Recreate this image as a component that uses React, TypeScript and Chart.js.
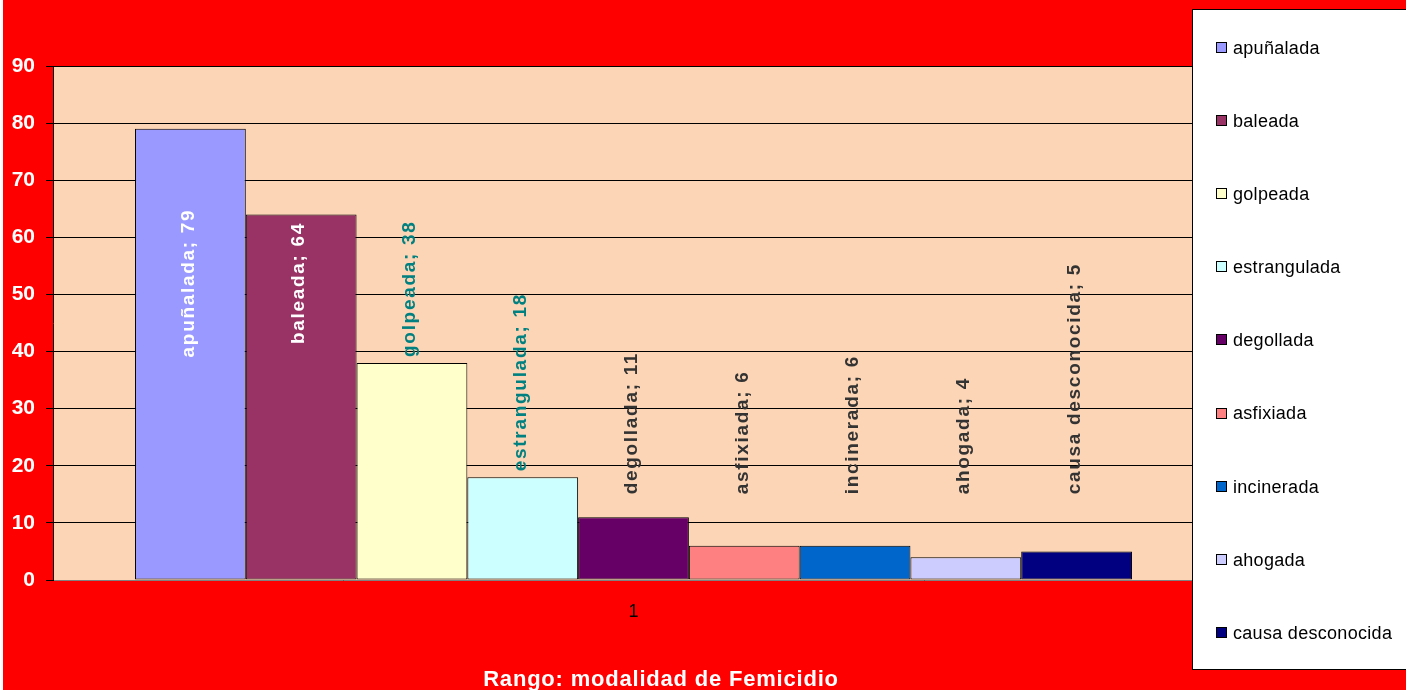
import React, { useEffect, useRef } from "react";
import { Chart, registerables } from "chart.js";

Chart.register(...registerables);

const categories = ["1"];
const seriesNames = [
  "apuñalada",
  "baleada",
  "golpeada",
  "estrangulada",
  "degollada",
  "asfixiada",
  "incinerada",
  "ahogada",
  "causa desconocida",
];
const seriesValues = [79, 64, 38, 18, 11, 6, 6, 4, 5];
const yMin = 0;
const yMax = 90;
const yStep = 10;
const xAxisTitle = "Rango: modalidad de Femicidio";

const barColors = [
  "#9999FF",
  "#993366",
  "#FFFFCC",
  "#CCFFFF",
  "#660066",
  "#FF8080",
  "#0066CC",
  "#CCCCFF",
  "#000080",
];
const labelColors = [
  "#FFFFFF",
  "#FFFFFF",
  "#008080",
  "#008080",
  "#333333",
  "#333333",
  "#333333",
  "#333333",
  "#333333",
];

const FONT = '"Liberation Sans", Arial, Helvetica, sans-serif';
const CANVAS_W = 1403;
const CANVAS_H = 690;

const backgroundPlugin = {
  id: "bgPlugin",
  beforeDraw(chart: any) {
    const { ctx, chartArea } = chart;
    ctx.save();
    ctx.fillStyle = "#FF0000";
    ctx.fillRect(0, 0, chart.width, chart.height);
    ctx.fillStyle = "#FBD5B5";
    ctx.fillRect(
      chartArea.left,
      chartArea.top,
      chartArea.right - chartArea.left,
      chartArea.bottom - chartArea.top
    );
    ctx.restore();
  },
};

const labelPlugin = {
  id: "barLabels",
  afterDatasetsDraw(chart: any) {
    const ctx = chart.ctx;
    const yScale = chart.scales.y;
    chart.data.datasets.forEach((ds: any, i: number) => {
      const el: any = chart.getDatasetMeta(i).data[0];
      if (!el) return;
      const v = ds.data[0] as number;
      const text = `${ds.label}; ${v}`;
      ctx.save();
      ctx.font = `bold 19px ${FONT}`;
      (ctx as any).letterSpacing = "1.7px";
      ctx.fillStyle = labelColors[i];
      ctx.translate(el.x - 2, 0);
      ctx.rotate(-Math.PI / 2);
      ctx.textBaseline = "middle";
      if (v > 50) {
        ctx.textAlign = "center";
        ctx.fillText(text, -yScale.getPixelForValue(52), 0);
      } else {
        const bottom = Math.min(el.y - 6, yScale.getPixelForValue(15));
        ctx.textAlign = "left";
        ctx.fillText(text, -bottom, 0);
      }
      ctx.restore();
    });
  },
};

const legendAndTitlePlugin = {
  id: "customLegend",
  afterDraw(chart: any) {
    const ctx = chart.ctx;
    ctx.save();
    const boxLeft = 1189.5;
    const boxTop = 9.5;
    const boxBottom = 669.5;
    ctx.fillStyle = "#FFFFFF";
    ctx.fillRect(boxLeft, boxTop, chart.width - boxLeft + 10, boxBottom - boxTop);
    ctx.strokeStyle = "#000000";
    ctx.lineWidth = 1;
    ctx.strokeRect(boxLeft, boxTop, chart.width - boxLeft + 10, boxBottom - boxTop);
    const step = 73.1;
    chart.data.datasets.forEach((ds: any, i: number) => {
      const cy = 48 + i * step;
      ctx.fillStyle = ds.backgroundColor;
      ctx.fillRect(1213.5, Math.round(cy) - 5.5, 10, 10);
      ctx.strokeStyle = "#000000";
      ctx.strokeRect(1213.5, Math.round(cy) - 5.5, 10, 10);
      ctx.fillStyle = "#000000";
      ctx.font = `18px ${FONT}`;
      (ctx as any).letterSpacing = "0.3px";
      ctx.textAlign = "left";
      ctx.textBaseline = "middle";
      ctx.fillText(ds.label, 1230, cy + 1);
    });
    ctx.fillStyle = "#FFFFFF";
    ctx.font = `bold 22px ${FONT}`;
    (ctx as any).letterSpacing = "0.8px";
    ctx.textAlign = "center";
    ctx.textBaseline = "alphabetic";
    ctx.fillText(xAxisTitle, 658, 686);
    ctx.restore();
  },
};

export default function App() {
  const canvasRef = useRef<HTMLCanvasElement | null>(null);

  useEffect(() => {
    if (!canvasRef.current) return;
    const chart = new Chart(canvasRef.current, {
      type: "bar",
      data: {
        labels: categories,
        datasets: seriesNames.map((name, i) => ({
          label: name,
          data: [seriesValues[i]],
          backgroundColor: barColors[i],
          borderColor: "#000000",
          borderWidth: 1,
          borderSkipped: false,
          categoryPercentage: 0.8587,
          barPercentage: 1,
        })),
      },
      options: {
        responsive: false,
        animation: false,
        layout: { padding: { top: 66, right: 192, left: 0, bottom: 0 } },
        plugins: {
          legend: { display: false },
          title: { display: false },
          tooltip: { enabled: false },
        },
        scales: {
          x: {
            grid: { display: false, drawTicks: false },
            border: { display: true, color: "#808080", width: 1 },
            ticks: {
              color: "#000000",
              font: { family: FONT, size: 18 },
              padding: 21,
            },
            afterFit: (scale: any) => {
              scale.height = 110;
            },
          },
          y: {
            min: yMin,
            max: yMax,
            ticks: {
              stepSize: yStep,
              color: "#FFFFFF",
              font: { family: FONT, size: 21, weight: "bold" },
              padding: 11,
            },
            grid: {
              color: "#000000",
              lineWidth: 1,
              tickLength: 7,
              drawTicks: true,
            },
            border: { display: true, color: "#000000", width: 1 },
            afterFit: (scale: any) => {
              scale.width = 50;
            },
          },
        },
      },
      plugins: [backgroundPlugin, labelPlugin, legendAndTitlePlugin],
    });
    return () => chart.destroy();
  }, []);

  return (
    <div
      style={{
        position: "fixed",
        left: 0,
        top: 0,
        width: 1406,
        height: 690,
        background: "#FFFFFF",
        overflow: "hidden",
      }}
    >
      <canvas
        ref={canvasRef}
        width={CANVAS_W}
        height={CANVAS_H}
        style={{
          position: "absolute",
          left: 3,
          top: 0,
          width: CANVAS_W,
          height: CANVAS_H,
        }}
      />
    </div>
  );
}
